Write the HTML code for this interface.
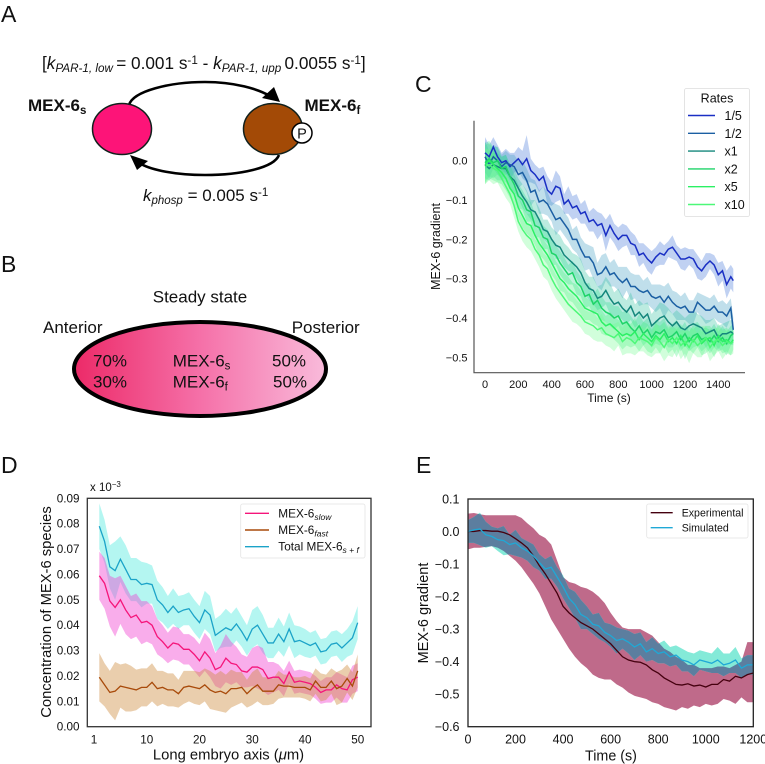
<!DOCTYPE html>
<html lang="en">
<head>
<meta charset="utf-8">
<title>MEX-6 figure</title>
<style>
html,body{margin:0;padding:0;background:#fff}
svg{display:block;font-family:"Liberation Sans",Arial,sans-serif;fill:#111}
</style>
</head>
<body>
<svg id="fig" xmlns="http://www.w3.org/2000/svg" width="765" height="764" viewBox="0 0 765 764">
<defs>
<linearGradient id="embryoGrad" x1="0" x2="1" y1="0" y2="0">
<stop offset="0" stop-color="#ec2a68"/><stop offset="0.5" stop-color="#f570a8"/><stop offset="1" stop-color="#f9bbdb"/>
</linearGradient>
</defs>
<rect width="765" height="764" fill="#fff"/>

<g>
<text x="1" y="22" font-size="23">A</text>
<text x="42" y="69" font-size="17.2">[<tspan font-style="italic">k</tspan><tspan font-style="italic" font-size="11.7" dy="3">PAR-1, low </tspan><tspan dy="-3">= 0.001 s</tspan><tspan font-size="11.7" dy="-5">-1</tspan><tspan dy="5"> - </tspan><tspan font-style="italic">k</tspan><tspan font-style="italic" font-size="11.7" dy="3">PAR-1, upp </tspan><tspan dy="-3">0.0055 s</tspan><tspan font-size="11.7" dy="-5">-1</tspan><tspan dy="5">]</tspan></text>
<path d="M129 105 C133 91 170 82 205 82 C235 82 258 89 270 96" fill="none" stroke="#000" stroke-width="2.6"/>
<polygon points="280,102 262,98 274,87" fill="#000"/>
<path d="M279 155 C274 168 240 175 205 175 C175 175 152 170 141 164" fill="none" stroke="#000" stroke-width="2.6"/>
<polygon points="130,155 148,161 137,170" fill="#000"/>
<ellipse cx="122" cy="129" rx="29.5" ry="25.5" fill="#fd1478" stroke="#10201c" stroke-width="1.5"/>
<ellipse cx="273" cy="129" rx="29.5" ry="25.5" fill="#a34a06" stroke="#10201c" stroke-width="1.5"/>
<circle cx="302" cy="133" r="10" fill="#fff" stroke="#000" stroke-width="1.5"/>
<text x="302" y="138.5" font-size="14.5" text-anchor="middle">P</text>
<text x="28" y="111" font-size="17" font-weight="bold">MEX-6<tspan font-size="11.5" dy="3">s</tspan></text>
<text x="304.5" y="111" font-size="17" font-weight="bold">MEX-6<tspan font-size="11.5" dy="3">f</tspan></text>
<text x="143" y="201" font-size="17"><tspan font-style="italic">k</tspan><tspan font-style="italic" font-size="11.5" dy="3">phosp</tspan><tspan dy="-3"> = 0.005 s</tspan><tspan font-size="11.5" dy="-5">-1</tspan></text>
</g>

<g>
<text x="1" y="272" font-size="23">B</text>
<text x="200" y="302.5" font-size="17" text-anchor="middle">Steady state</text>
<ellipse cx="200" cy="369" rx="126" ry="47" fill="url(#embryoGrad)" stroke="#000" stroke-width="4"/>
<text x="43" y="333" font-size="17">Anterior</text>
<text x="291.7" y="333" font-size="17">Posterior</text>
<text x="93" y="366.7" font-size="17">70%</text>
<text x="93" y="387.7" font-size="17">30%</text>
<text x="172.7" y="366.7" font-size="17">MEX-6<tspan font-size="11.5" dy="3">s</tspan></text>
<text x="172.7" y="387.7" font-size="17">MEX-6<tspan font-size="11.5" dy="3">f</tspan></text>
<text x="272" y="366.7" font-size="17">50%</text>
<text x="273" y="387.7" font-size="17">50%</text>
</g>

<text x="415" y="92" font-size="23">C</text>
<text x="416" y="473" font-size="23">E</text>
<text x="1" y="473" font-size="23">D</text>
<g id="panelC"></g>
<g id="panelD"></g>
<g id="panelE"></g>
</svg>

<script>
// ---------- Panel C data ----------
const timesC = [0,25,50,75,100,125,150,175,200,225,250,275,300,325,350,375,400,425,450,475,500,525,550,575,600,625,650,675,700,725,750,775,800,825,850,875,900,925,950,975,1000,1025,1050,1075,1100,1125,1150,1175,1200,1225,1250,1275,1300,1325,1350,1375,1400,1425,1450,1475,1490];
const rateLabels = ['1/5','1/2','x1','x2','x5','x10'];
const rateOneFifth = [.02,.01,.035,.01,-.005,0,-.015,-.005,.005,-.01,
 .005,-.025,-.035,-.05,-.04,-.075,-.085,-.065,-.07,-.11,
 -.10,-.12,-.115,-.135,-.13,-.155,-.15,-.165,-.16,-.19,
 -.165,-.185,-.20,-.19,-.19,-.21,-.215,-.24,-.235,-.25,
 -.26,-.245,-.235,-.24,-.225,-.22,-.235,-.25,-.25,-.245,
 -.25,-.27,-.28,-.265,-.255,-.265,-.29,-.28,-.315,-.295,
 -.305];
const rateOneHalf = [.01,-.01,.01,0,-.015,-.005,-.01,-.015,-.035,-.03,
 -.05,-.08,-.075,-.105,-.10,-.11,-.13,-.15,-.145,-.16,
 -.175,-.20,-.20,-.225,-.245,-.245,-.26,-.29,-.285,-.27,
 -.29,-.285,-.30,-.31,-.30,-.32,-.32,-.33,-.335,-.33,
 -.345,-.35,-.345,-.36,-.345,-.36,-.37,-.375,-.37,-.385,
 -.385,-.36,-.37,-.38,-.38,-.37,-.385,-.385,-.395,-.375,
 -.43];
const rateX1 = [-.01,-.02,-.01,-.015,-.02,-.02,-.04,-.05,-.07,-.09,
 -.105,-.125,-.13,-.15,-.175,-.18,-.20,-.215,-.22,-.24,
 -.25,-.26,-.27,-.285,-.31,-.325,-.33,-.35,-.345,-.33,
 -.35,-.365,-.36,-.375,-.385,-.37,-.395,-.385,-.40,-.39,
 -.42,-.41,-.40,-.395,-.41,-.42,-.41,-.425,-.43,-.42,
 -.415,-.42,-.425,-.44,-.435,-.43,-.45,-.44,-.44,-.435,
 -.44];
const rateX2 = [-.005,.005,-.005,0,-.02,-.015,-.04,-.06,-.09,-.10,
 -.125,-.13,-.165,-.17,-.195,-.20,-.235,-.24,-.26,-.275,
 -.29,-.285,-.31,-.32,-.345,-.34,-.365,-.355,-.375,-.385,
 -.39,-.40,-.395,-.415,-.41,-.425,-.435,-.42,-.44,-.43,
 -.45,-.435,-.44,-.43,-.45,-.445,-.435,-.455,-.44,-.46,
 -.445,-.44,-.455,-.45,-.46,-.445,-.46,-.45,-.465,-.445,
 -.44];
const rateX5 = [-.01,0,-.01,-.02,-.03,-.045,-.07,-.085,-.12,-.14,
 -.16,-.165,-.19,-.21,-.225,-.24,-.26,-.28,-.30,-.31,
 -.325,-.335,-.345,-.36,-.375,-.38,-.385,-.39,-.41,-.42,
 -.415,-.425,-.435,-.445,-.44,-.445,-.435,-.455,-.44,-.45,
 -.46,-.445,-.455,-.44,-.46,-.45,-.465,-.445,-.47,-.45,
 -.46,-.445,-.465,-.455,-.45,-.47,-.445,-.46,-.455,-.465,
 -.455];
const rateX10 = [-.015,-.01,-.02,-.025,-.045,-.065,-.085,-.115,-.155,-.175,
 -.19,-.20,-.225,-.24,-.265,-.275,-.30,-.32,-.335,-.35,
 -.365,-.375,-.385,-.395,-.41,-.415,-.42,-.43,-.425,-.44,
 -.445,-.45,-.44,-.46,-.45,-.455,-.465,-.45,-.455,-.46,
 -.47,-.45,-.46,-.475,-.455,-.465,-.45,-.47,-.46,-.475,
 -.455,-.47,-.46,-.45,-.475,-.46,-.455,-.47,-.46,-.465,
 -.46];
const spreadOneFifth = [.04,.03,.025,.03,.025,.03,.035,.025,.03,.035,
 .06,.03,.025,.03,.025,.035,.03,.04,.03,.025,
 .035,.03,.03,.025,.03,.025,.03,.035,.025,.04,
 .03,.025,.03,.03,.025,.03,.025,.03,.025,.03,
 .03,.025,.03,.025,.02,.03,.02,.025,.03,.02,
 .025,.03,.025,.03,.02,.025,.03,.025,.035,.03,
 .03];
const spreadOneHalf = [.04,.035,.03,.035,.03,.03,.025,.03,.035,.03,
 .03,.035,.025,.03,.035,.03,.025,.04,.03,.03,
 .03,.025,.035,.03,.035,.03,.04,.03,.045,.035,
 .03,.035,.03,.04,.03,.035,.03,.04,.03,.035,
 .03,.035,.03,.04,.035,.03,.035,.03,.035,.03,
 .03,.025,.03,.035,.03,.03,.025,.03,.03,.025,
 .03];
const spreadX1 = [.035,.03,.03,.035,.03,.035,.03,.03,.025,.03,
 .03,.025,.03,.03,.025,.03,.03,.035,.03,.03,
 .03,.025,.03,.035,.03,.03,.035,.03,.03,.035,
 .04,.03,.035,.03,.03,.035,.03,.03,.035,.03,
 .03,.035,.04,.03,.035,.03,.03,.035,.03,.03,
 .035,.03,.03,.035,.03,.03,.03,.025,.03,.03,
 .03];
const spreadX2 = [.05,.045,.04,.035,.03,.03,.03,.025,.03,.025,
 .03,.025,.03,.025,.03,.025,.03,.025,.03,.03,
 .025,.03,.03,.025,.03,.03,.025,.03,.03,.025,
 .03,.03,.025,.03,.03,.03,.025,.03,.03,.03,
 .025,.03,.03,.03,.025,.03,.03,.03,.03,.025,
 .03,.03,.03,.025,.03,.03,.025,.03,.03,.025,
 .025];
const spreadX5 = [.05,.045,.04,.035,.03,.03,.025,.03,.025,.03,
 .025,.03,.025,.03,.025,.025,.03,.025,.03,.025,
 .03,.025,.03,.03,.03,.025,.03,.03,.03,.025,
 .03,.03,.03,.035,.03,.03,.035,.03,.03,.035,
 .03,.03,.035,.03,.03,.03,.035,.03,.035,.03,
 .03,.03,.03,.035,.03,.03,.03,.03,.03,.03,
 .025];
const spreadX10 = [.045,.04,.04,.03,.03,.03,.025,.03,.025,.03,
 .03,.03,.025,.03,.03,.03,.03,.03,.03,.03,
 .03,.035,.03,.03,.03,.03,.035,.03,.035,.03,
 .03,.035,.03,.035,.04,.035,.03,.035,.03,.035,
 .03,.04,.03,.035,.04,.035,.03,.035,.03,.04,
 .035,.03,.04,.03,.035,.035,.03,.035,.03,.03,
 .03];
const ticksCx = [0,200,400,600,800,1000,1200,1400];
const ticksCy = [0,-.1,-.2,-.3,-.4,-.5];

// ---------- Panel D data ----------
const axisPositions = [1,2,3,4,5,6,7,8,9,10,11,12,13,14,15,16,17,18,19,20,21,22,23,24,25,26,27,28,29,30,31,32,33,34,35,36,37,38,39,40,41,42,43,44,45,46,47,48,49,50];
const slowMeans = [.0595,.0565,.0495,.047,.050,.046,.043,.044,.041,.0415,
 .040,.0355,.0335,.031,.033,.0325,.0305,.0305,.0285,.026,
 .0295,.027,.0225,.0235,.027,.025,.0245,.022,.0215,.0235,
 .0235,.0225,.019,.0195,.0195,.017,.0215,.0175,.018,.0175,
 .017,.0155,.0135,.0145,.0145,.0165,.015,.0145,.0185,.0195];
const slowSpread = [.0095,.010,.010,.0115,.0095,.0095,.0085,.0085,.0085,.008,
 .0075,.007,.0065,.006,.0065,.0065,.006,.006,.0065,.0065,
 .0075,.0075,.0065,.0085,.0095,.0085,.007,.0065,.006,.0075,
 .0085,.0085,.0065,.006,.005,.005,.0045,.0045,.0045,.0045,
 .0045,.0045,.0045,.005,.005,.005,.0055,.005,.0055,.0055];
const fastMeans = [.0195,.0165,.0135,.014,.016,.0155,.015,.0145,.0155,.0155,
 .0175,.015,.0155,.0145,.0145,.013,.0155,.016,.0155,.015,
 .0165,.0145,.0135,.014,.013,.015,.015,.0155,.013,.015,
 .0165,.014,.014,.014,.0165,.016,.016,.0155,.0155,.0155,
 .0145,.018,.0155,.0155,.018,.015,.016,.019,.016,.022];
const fastSpread = [.0095,.0085,.0085,.0115,.0085,.0095,.009,.008,.0075,.0075,
 .0075,.007,.0065,.0065,.0065,.0055,.0065,.006,.0065,.0065,
 .0065,.0075,.007,.008,.0075,.0075,.0065,.006,.0055,.0065,
 .0065,.0055,.0055,.005,.0055,.0045,.0045,.004,.004,.0045,
 .0045,.005,.0055,.005,.005,.0065,.0065,.0055,.0055,.0065];
const totalMeans = [.079,.073,.063,.0615,.066,.062,.058,.058,.056,.0565,
 .056,.050,.048,.045,.0475,.045,.046,.0465,.0435,.041,
 .046,.044,.036,.0375,.039,.038,.0405,.0375,.034,.0385,
 .040,.0365,.033,.033,.0365,.0335,.0385,.0335,.034,.033,
 .032,.033,.0295,.030,.0325,.033,.031,.033,.035,.041];
const totalSpread = [.009,.0085,.0085,.0115,.009,.0095,.0085,.0085,.009,.008,
 .0075,.0075,.007,.0065,.007,.0065,.006,.0065,.0065,.0065,
 .0075,.0075,.0065,.0065,.0075,.0065,.0065,.006,.006,.0075,
 .0075,.0075,.006,.006,.0065,.006,.0065,.0065,.0055,.0055,
 .005,.005,.005,.005,.005,.005,.0055,.0055,.0065,.0065];
const ticksDx = [0,10,20,30,40,50];
const tickLabelsDx = ['1','10','20','30','40','50'];
const ticksDy = [0,.01,.02,.03,.04,.05,.06,.07,.08,.09];

// ---------- Panel E data ----------
const timesE = [0,25,50,75,100,125,150,175,200,225,250,275,300,325,350,375,400,425,450,475,500,525,550,575,600,625,650,675,700,725,750,775,800,825,850,875,900,925,950,975,1000,1025,1050,1075,1100,1125,1150,1175,1200];
const experimentalMeans = [0,0,.003,.003,.001,.001,-.003,-.01,-.022,-.035,
 -.05,-.075,-.105,-.13,-.16,-.19,-.23,-.25,-.265,-.28,
 -.29,-.30,-.315,-.33,-.345,-.365,-.385,-.395,-.40,-.402,
 -.41,-.425,-.435,-.45,-.46,-.47,-.472,-.468,-.475,-.472,
 -.478,-.47,-.47,-.455,-.46,-.445,-.45,-.44,-.435];
const experimentalUpper = [.055,.057,.053,.05,.05,.05,.05,.05,.05,.042,
 .025,.01,-.01,-.02,-.04,-.09,-.14,-.155,-.16,-.17,
 -.175,-.185,-.20,-.22,-.25,-.275,-.295,-.30,-.30,-.30,
 -.31,-.32,-.34,-.36,-.37,-.385,-.395,-.41,-.41,-.42,
 -.42,-.42,-.415,-.415,-.42,-.41,-.40,-.34,-.34];
const experimentalLower = [-.055,-.05,-.05,-.047,-.045,-.05,-.06,-.075,-.09,-.11,
 -.135,-.16,-.19,-.23,-.27,-.30,-.33,-.36,-.385,-.405,
 -.42,-.44,-.45,-.455,-.455,-.47,-.48,-.495,-.505,-.51,
 -.515,-.525,-.53,-.54,-.545,-.55,-.54,-.545,-.535,-.54,
 -.53,-.535,-.53,-.515,-.52,-.53,-.51,-.525,-.525];
const simulatedMeans = [0,.005,.008,-.01,-.015,-.025,-.028,-.04,-.035,-.05,
 -.06,-.075,-.095,-.115,-.11,-.14,-.17,-.205,-.225,-.255,
 -.265,-.285,-.29,-.31,-.32,-.335,-.33,-.34,-.355,-.345,
 -.37,-.36,-.375,-.37,-.385,-.38,-.395,-.40,-.41,-.395,
 -.40,-.405,-.395,-.41,-.405,-.395,-.42,-.41,-.41];
const simulatedSpread = [.035,.04,.05,.04,.03,.035,.045,.03,.04,.03,
 .03,.035,.025,.03,.035,.03,.035,.03,.04,.045,
 .035,.03,.04,.03,.035,.04,.03,.035,.04,.035,
 .03,.035,.03,.035,.03,.03,.035,.03,.035,.03,
 .03,.03,.04,.035,.03,.04,.03,.03,.03];
const ticksEx = [0,200,400,600,800,1000,1200];
const ticksEy = [.1,0,-.1,-.2,-.3,-.4,-.5,-.6];

// ---------- helpers ----------
const NS = 'http://www.w3.org/2000/svg';
function make(parent, tag, attrs, txt) {
  const el = document.createElementNS(NS, tag);
  for (const k in attrs) el.setAttribute(k, attrs[k]);
  if (txt !== undefined) el.textContent = txt;
  parent.appendChild(el);
  return el;
}
function linear(d0, d1, r0, r1) {
  return v => r0 + (v - d0) * (r1 - r0) / (d1 - d0);
}
function linePath(xs, ys, X, Y) {
  return xs.map((v, i) => (i ? 'L' : 'M') + X(v).toFixed(2) + ' ' + Y(ys[i]).toFixed(2)).join('');
}
function bandPath(xs, lo, hi, X, Y) {
  let d = xs.map((v, i) => (i ? 'L' : 'M') + X(v).toFixed(2) + ' ' + Y(hi[i]).toFixed(2)).join('');
  for (let i = xs.length - 1; i >= 0; i--) d += 'L' + X(xs[i]).toFixed(2) + ' ' + Y(lo[i]).toFixed(2);
  return d + 'Z';
}
function minus(v) { return String(v).replace('-', '\u2212'); }

// ---------- Panel C ----------
(function () {
  const g = document.getElementById('panelC');
  const X = linear(0, 1400, 485, 718.3);
  const Y = linear(0, -.5, 160.7, 357.3);
  const means = [rateOneFifth, rateOneHalf, rateX1, rateX2, rateX5, rateX10];
  const spreads = [spreadOneFifth, spreadOneHalf, spreadX1, spreadX2, spreadX5, spreadX10];
  const lineCols = ['#1a2fc4', '#1b5fa3', '#14877c', '#1ed468', '#2bf064', '#4df878'];
  const bandCols = ['#3a6fd8', '#3a9cc0', '#2fc0a0', '#30e090', '#40f080', '#70fb90'];
  means.forEach((m, s) => {
    const lo = m.map((v, i) => v - spreads[s][i]);
    const hi = m.map((v, i) => v + spreads[s][i]);
    const band = make(g, 'path', { d: bandPath(timesC, lo, hi, X, Y), fill: bandCols[s], 'fill-opacity': 0.32 });
    
    
  });
  means.forEach((m, s) => {
    const line = make(g, 'path', { d: linePath(timesC, m, X, Y), fill: 'none', stroke: lineCols[s], 'stroke-width': 1.5 });
    
    
  });
  const spine = make(g, 'path', { d: 'M474 120.7V372.7H745', fill: 'none', stroke: '#555', 'stroke-width': 1.2 });
  
  
  ticksCx.forEach(t => {
    const el = make(g, 'text', { x: X(t), y: 388, 'font-size': 11, 'text-anchor': 'middle' }, String(t));
    
    
  });
  ticksCy.forEach(t => {
    const el = make(g, 'text', { x: 467.5, y: Y(t) + 4, 'font-size': 11, 'text-anchor': 'end' }, minus(t.toFixed(1)));
    
    
  });
  const xt = make(g, 'text', { x: 609, y: 402, 'font-size': 12, 'text-anchor': 'middle' }, 'Time (s)');
  
  
  const yt = make(g, 'text', { transform: 'translate(440 246.5) rotate(-90)', 'font-size': 12.5, 'text-anchor': 'middle' }, 'MEX-6 gradient');
  
  
  const box = make(g, 'rect', { x: 684.5, y: 88.5, width: 65, height: 128, rx: 2, fill: '#fff', 'fill-opacity': 0.85, stroke: '#ddd', 'stroke-width': 0.8 });
  
  
  const ttl = make(g, 'text', { x: 717, y: 102.5, 'font-size': 12.5, 'text-anchor': 'middle' }, 'Rates');
  
  
  rateLabels.forEach((lab, i) => {
    const y = 115.5 + i * 17.8;
    const sw = make(g, 'line', { x1: 688, x2: 715, y1: y, y2: y, stroke: lineCols[i], 'stroke-width': 1.4 });
    
    
    const tx = make(g, 'text', { x: 724.5, y: y + 4.5, 'font-size': 12.5 }, lab);
    
    
  });
})();

// ---------- Panel D ----------
(function () {
  const g = document.getElementById('panelD');
  const X = linear(1, 50, 99.3, 357.7);
  const Y = linear(0, .09, 726.7, 498.3);
  const series = [
    { m: totalMeans, s: totalSpread, band: '#2fe6d8', line: '#1ba3c8', op: 0.36 },
    { m: slowMeans, s: slowSpread, band: '#f03cd0', line: '#f5157a', op: 0.42 },
    { m: fastMeans, s: fastSpread, band: '#cd8a3c', line: '#a84a0a', op: 0.42 }
  ];
  series.forEach(d => {
    const lo = d.m.map((v, i) => v - d.s[i]);
    const hi = d.m.map((v, i) => v + d.s[i]);
    const band = make(g, 'path', { d: bandPath(axisPositions, lo, hi, X, Y), fill: d.band, 'fill-opacity': d.op });
    
    
  });
  series.forEach(d => {
    const line = make(g, 'path', { d: linePath(axisPositions, d.m, X, Y), fill: 'none', stroke: d.line, 'stroke-width': 1.3 });
    
    
  });
  const frame = make(g, 'rect', { x: 87.3, y: 498.3, width: 283.7, height: 228.4, fill: 'none', stroke: '#333', 'stroke-width': 1.3 });
  
  
  ticksDx.forEach((t, i) => {
    const el = make(g, 'text', { x: X(t), y: 743.5, 'font-size': 11.7, 'text-anchor': 'middle' }, tickLabelsDx[i]);
    
    
  });
  ticksDy.forEach(t => {
    const el = make(g, 'text', { x: 79.5, y: Y(t) + 4, 'font-size': 11.7, 'text-anchor': 'end' }, t.toFixed(2));
    
    
  });
  const mult = make(g, 'text', { x: 90, y: 491, 'font-size': 11.5 });
  
  
  make(mult, 'tspan', {}, 'x 10');
  make(mult, 'tspan', { dy: -4, 'font-size': 8 }, '\u22123');
  const xt = make(g, 'text', { x: 228.5, y: 759.5, 'font-size': 14.8, 'text-anchor': 'middle' });
  
  
  make(xt, 'tspan', {}, 'Long embryo axis (');
  make(xt, 'tspan', { 'font-style': 'italic' }, '\u03bc');
  make(xt, 'tspan', {}, 'm)');
  const yt = make(g, 'text', { transform: 'translate(51 612) rotate(-90)', 'font-size': 14.75, 'text-anchor': 'middle' }, 'Concentration of MEX-6 species');
  
  
  const box = make(g, 'rect', { x: 240.7, y: 504, width: 124.3, height: 54, rx: 2, fill: '#fff', stroke: '#e4e4e4', 'stroke-width': 0.8 });
  
  
  const legendNames = [['MEX-6', 'slow'], ['MEX-6', 'fast'], ['Total MEX-6', 's + f']];
  const legendCols = ['#f5157a', '#a84a0a', '#1ba3c8'];
  legendNames.forEach((n, i) => {
    const y = 513.3 + i * 16.7;
    const sw = make(g, 'line', { x1: 245, x2: 269, y1: y, y2: y, stroke: legendCols[i], 'stroke-width': 1.4 });
    
    
    const tx = make(g, 'text', { x: 278.3, y: y + 4, 'font-size': 11.8 });
    
    
    make(tx, 'tspan', {}, n[0]);
    make(tx, 'tspan', { dy: 2.5, 'font-size': 8.5, 'font-style': 'italic' }, n[1]);
  });
})();

// ---------- Panel E ----------
(function () {
  const g = document.getElementById('panelE');
  const X = linear(0, 1200, 468, 753.3);
  const Y = linear(.1, -.6, 499, 726.7);
  const expBand = bandPath(timesE, experimentalLower, experimentalUpper, X, Y);
  const simLo = simulatedMeans.map((v, i) => v - simulatedSpread[i]);
  const simHi = simulatedMeans.map((v, i) => v + simulatedSpread[i]);
  const simBand = bandPath(timesE, simLo, simHi, X, Y);
  const svg = document.getElementById('fig');
  const clip = make(svg.querySelector('defs'), 'clipPath', { id: 'expClip' });
  make(clip, 'path', { d: expBand });
  const b1 = make(g, 'path', { d: expBand, fill: '#bf6a8a' });
  
  
  const b2 = make(g, 'path', { d: simBand, fill: '#84ead8' });
  
  
  const b3 = make(g, 'path', { d: simBand, fill: '#5c7e9f', 'clip-path': 'url(#expClip)' });
  
  
  const l1 = make(g, 'path', { d: linePath(timesE, experimentalMeans, X, Y), fill: 'none', stroke: '#45000f', 'stroke-width': 1.3 });
  
  
  const l2 = make(g, 'path', { d: linePath(timesE, simulatedMeans, X, Y), fill: 'none', stroke: '#1fa9d6', 'stroke-width': 1.3 });
  
  
  const frame = make(g, 'rect', { x: 468, y: 499, width: 285.3, height: 227.7, fill: 'none', stroke: '#222', 'stroke-width': 1.3 });
  
  
  ticksEx.forEach(t => {
    const el = make(g, 'text', { x: X(t), y: 743.5, 'font-size': 12.5, 'text-anchor': 'middle' }, String(t));
    
    
  });
  ticksEy.forEach(t => {
    const el = make(g, 'text', { x: 459.5, y: Y(t) + 4.5, 'font-size': 12.5, 'text-anchor': 'end' }, minus(t.toFixed(1)));
    
    
  });
  const xt = make(g, 'text', { x: 611, y: 760.7, 'font-size': 14.3, 'text-anchor': 'middle' }, 'Time (s)');
  
  
  const yt = make(g, 'text', { transform: 'translate(428 613) rotate(-90)', 'font-size': 14.5, 'text-anchor': 'middle' }, 'MEX-6 gradient');
  
  
  const box = make(g, 'rect', { x: 646.7, y: 504, width: 101.3, height: 34, rx: 2, fill: '#fff', stroke: '#e4e4e4', 'stroke-width': 0.8 });
  
  
  const names = ['Experimental', 'Simulated'];
  const cols = ['#45000f', '#1fa9d6'];
  names.forEach((n, i) => {
    const y = 512.7 + i * 15;
    const sw = make(g, 'line', { x1: 650.7, x2: 672.7, y1: y, y2: y, stroke: cols[i], 'stroke-width': 1.4 });
    
    
    const tx = make(g, 'text', { x: 681.7, y: y + 3.7, 'font-size': 10.6 }, n);
    
    
  });
})();
</script>
</body>
</html>
